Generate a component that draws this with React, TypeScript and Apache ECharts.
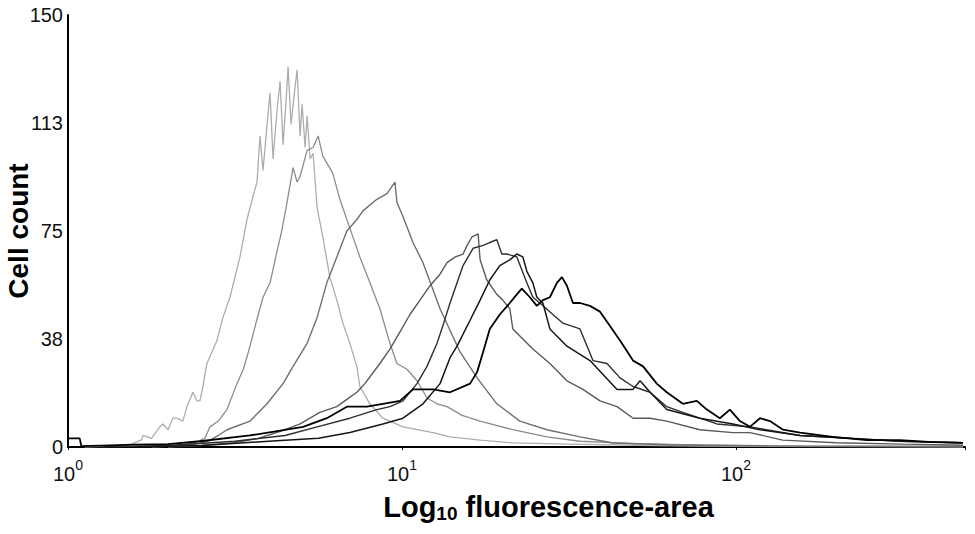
import React, { useEffect, useRef } from "react";
import * as echarts from "echarts";

// x values are log10(fluorescence-area); y values are cell counts
const xMaxLog = 2.686;
const yMax = 150;
const yStep = 37.5;

const curveA: [number, number][] = [
  [0.05, 0], [0.15, 0.5], [0.19, 1], [0.22, 2.5], [0.225, 4], [0.25, 3], [0.275, 7], [0.284, 8], [0.3, 6],
  [0.314, 10], [0.326, 10], [0.344, 9], [0.356, 14], [0.374, 19], [0.386, 16], [0.395, 16], [0.404, 21],
  [0.416, 29], [0.446, 37], [0.464, 45], [0.485, 52], [0.515, 66], [0.536, 79], [0.554, 87], [0.566, 92],
  [0.575, 108], [0.584, 96], [0.596, 112], [0.605, 123], [0.614, 100], [0.626, 117], [0.635, 127],
  [0.644, 105], [0.653, 120], [0.659, 132], [0.668, 112], [0.677, 122], [0.686, 131], [0.695, 108],
  [0.701, 119], [0.71, 104], [0.716, 115], [0.725, 100], [0.734, 102], [0.746, 83], [0.763, 73],
  [0.784, 59], [0.805, 51], [0.823, 43], [0.844, 36], [0.865, 28], [0.874, 21], [0.904, 15], [0.943, 10],
  [1.003, 7], [1.093, 5], [1.144, 3.5], [1.234, 2.4], [1.332, 1.4], [1.5, 1], [1.7, 0.6], [1.9, 0.3],
  [2.1, 0.2], [2.4, 0.1], [2.68, 0],
];

const curveB: [number, number][] = [
  [0.25, 0], [0.33, 0.5], [0.38, 1.5], [0.41, 3], [0.425, 7], [0.45, 9], [0.476, 13], [0.506, 22],
  [0.525, 27], [0.545, 35], [0.565, 44], [0.584, 52], [0.605, 57], [0.626, 68], [0.64, 75], [0.656, 85],
  [0.674, 97], [0.686, 92], [0.695, 94], [0.716, 103], [0.734, 104], [0.749, 108], [0.763, 101],
  [0.793, 95], [0.814, 86], [0.844, 76], [0.874, 66], [0.904, 57], [0.934, 48], [0.964, 36], [0.985, 29],
  [1.015, 27], [1.045, 23], [1.075, 17], [1.105, 15], [1.135, 14], [1.18, 11], [1.234, 9], [1.332, 6],
  [1.434, 3.5], [1.533, 2], [1.7, 1.2], [1.9, 0.6], [2.2, 0.3], [2.68, 0.1],
];

const curveC: [number, number][] = [
  [0.3, 0], [0.38, 1], [0.42, 2], [0.45, 4], [0.476, 6], [0.545, 9], [0.596, 15], [0.644, 22],
  [0.674, 28], [0.716, 36], [0.746, 45], [0.775, 57], [0.805, 66], [0.835, 75], [0.865, 79], [0.883, 82],
  [0.925, 86], [0.955, 88], [0.979, 92], [0.985, 85], [1.003, 80], [1.033, 71], [1.063, 64], [1.114, 48],
  [1.174, 33], [1.225, 24], [1.284, 15], [1.353, 9], [1.434, 6], [1.533, 3.5], [1.632, 1.4], [1.8, 0.8],
  [2.1, 0.4], [2.68, 0.2],
];

const curveD: [number, number][] = [
  [0.3, 0], [0.4, 0.5], [0.5, 1.5], [0.57, 3], [0.65, 6], [0.695, 8], [0.754, 12], [0.805, 14],
  [0.829, 16], [0.865, 19], [0.889, 22], [0.934, 29], [0.964, 34], [0.994, 40], [1.024, 46], [1.054, 51],
  [1.084, 56], [1.114, 60], [1.135, 64], [1.16, 66], [1.183, 67], [1.195, 70], [1.21, 73], [1.228, 74],
  [1.234, 65], [1.254, 58], [1.284, 53], [1.302, 51], [1.323, 48], [1.332, 41], [1.392, 34], [1.443, 29],
  [1.494, 23], [1.542, 20], [1.593, 16], [1.644, 14], [1.692, 10], [1.743, 10], [1.793, 9], [1.892, 6],
  [1.991, 5], [2.042, 5], [2.14, 2.4], [2.3, 1.5], [2.5, 1], [2.68, 0.6],
];

const curveE: [number, number][] = [
  [0.1, 0], [0.3, 0.5], [0.5, 2], [0.65, 4], [0.746, 7], [0.844, 10], [0.925, 13], [0.964, 14],
  [1.003, 16], [1.045, 22], [1.075, 28], [1.105, 36], [1.125, 43], [1.144, 50], [1.165, 57], [1.183, 63],
  [1.213, 69], [1.243, 70], [1.263, 71], [1.284, 72], [1.299, 67], [1.314, 67], [1.344, 66], [1.374, 57],
  [1.392, 52], [1.413, 50], [1.452, 46], [1.482, 43], [1.533, 41], [1.572, 30], [1.614, 29], [1.653, 24],
  [1.692, 21], [1.743, 19], [1.793, 14], [1.841, 12], [1.892, 10], [1.943, 8], [2.042, 7], [2.192, 4],
  [2.341, 3], [2.491, 2], [2.68, 1.5],
];

const curveF: [number, number][] = [
  [0.2, 0], [0.4, 0.5], [0.6, 2], [0.75, 3], [0.844, 5], [0.943, 8], [1.003, 10], [1.063, 15],
  [1.114, 22], [1.144, 31], [1.165, 35], [1.204, 44], [1.234, 51], [1.263, 58], [1.293, 63], [1.323, 65],
  [1.344, 67], [1.362, 66], [1.374, 61], [1.392, 57], [1.404, 52], [1.422, 50], [1.443, 41], [1.494, 35],
  [1.563, 30], [1.644, 20], [1.692, 20], [1.713, 23], [1.743, 19], [1.793, 13], [1.892, 10], [1.991, 8],
  [2.072, 6], [2.192, 4], [2.341, 3], [2.491, 2], [2.68, 1.5],
];

const curveG: [number, number][] = [
  [0, 3], [0.035, 3], [0.04, 0.3], [0.1, 0.5], [0.2, 0.8], [0.3, 1], [0.395, 2], [0.545, 4], [0.704, 7],
  [0.775, 10], [0.835, 14], [0.895, 14], [0.943, 15], [0.994, 16], [1.033, 20], [1.093, 20], [1.144, 19],
  [1.204, 22], [1.225, 26], [1.243, 33], [1.263, 41], [1.293, 46], [1.323, 50], [1.344, 53], [1.359, 55],
  [1.383, 52], [1.404, 49], [1.422, 51], [1.443, 52], [1.464, 57], [1.479, 59], [1.494, 56], [1.512, 50],
  [1.533, 50], [1.563, 49], [1.593, 47], [1.623, 42], [1.653, 37], [1.692, 30], [1.722, 28], [1.763, 22],
  [1.793, 19], [1.841, 15], [1.883, 16], [1.913, 13], [1.952, 10], [1.982, 13], [2.012, 9], [2.042, 7],
  [2.072, 10], [2.102, 9], [2.141, 6], [2.192, 5], [2.29, 3.5], [2.392, 2.4], [2.491, 2.4], [2.59, 1.7],
  [2.68, 1.4],
];

const curves = [curveA, curveB, curveC, curveD, curveE, curveF, curveG];
const curveNames = ["A", "B", "C", "D", "E", "F", "G"];
const curveColors = ["#adadad", "#8c8c8c", "#707070", "#5a5a5a", "#2e2e2e", "#161616", "#000000"];
const curveWidths = [1.3, 1.3, 1.4, 1.4, 1.4, 1.5, 1.8];

export default function App() {
  const ref = useRef<HTMLDivElement>(null);
  useEffect(() => {
    if (!ref.current) return;
    const chart = echarts.init(ref.current, undefined, { renderer: "svg" });
    const font = "Arial, 'Liberation Sans', sans-serif";
    chart.setOption({
      animation: false,
      backgroundColor: "#ffffff",
      grid: { left: 68, right: 10, top: 15, bottom: 87, containLabel: false, outerBoundsMode: "none" },
      xAxis: {
        type: "value",
        min: 0,
        max: xMaxLog,
        interval: 1,
        name: "Log{sub|10} fluorescence-area",
        nameLocation: "middle",
        nameGap: 43,
        nameMoveOverlap: false,
        nameTextStyle: {
          fontFamily: font,
          fontSize: 29,
          fontWeight: "bold",
          color: "#000",
          padding: [0, 0, 0, 64],
          rich: {
            sub: { fontFamily: font, fontSize: 19, fontWeight: "bold", color: "#000", padding: [14, 0, 0, 0] },
          },
        },
        axisLine: { show: true, onZero: false, lineStyle: { color: "#000", width: 2 } },
        axisTick: { show: true, length: 3, lineStyle: { color: "#000", width: 1 } },
        splitLine: { show: false },
        axisLabel: {
          margin: 11,
          formatter: (v: number) => (Number.isInteger(v) ? `{b|10}{s|${v}}` : ""),
          rich: {
            b: { fontFamily: font, fontSize: 20, color: "#111", lineHeight: 26, verticalAlign: "bottom" },
            s: { fontFamily: font, fontSize: 14, color: "#111", lineHeight: 26, verticalAlign: "top" },
          },
        },
      },
      yAxis: {
        type: "value",
        min: 0,
        max: yMax,
        interval: yStep,
        name: "Cell count",
        nameLocation: "middle",
        nameGap: 36,
        nameRotate: 90,
        nameMoveOverlap: false,
        nameTextStyle: { fontFamily: font, fontSize: 28, fontWeight: "bold", color: "#000" },
        axisLine: { show: true, lineStyle: { color: "#000", width: 2 } },
        axisTick: { show: false },
        splitLine: { show: false },
        axisLabel: {
          margin: 5,
          fontFamily: font,
          fontSize: 20,
          color: "#111",
          formatter: (v: number) => String(Math.round(v)),
        },
      },
      series: curves.map((c, i) => ({
        name: curveNames[i],
        type: "line",
        data: c,
        showSymbol: false,
        symbol: "none",
        smooth: false,
        lineStyle: { color: curveColors[i], width: curveWidths[i] },
        z: 2 + i,
      })),
    });
    return () => chart.dispose();
  }, []);
  return (
    <div
      ref={ref}
      style={{ position: "fixed", left: 0, top: 0, width: 975, height: 534, background: "#fff" }}
    />
  );
}
